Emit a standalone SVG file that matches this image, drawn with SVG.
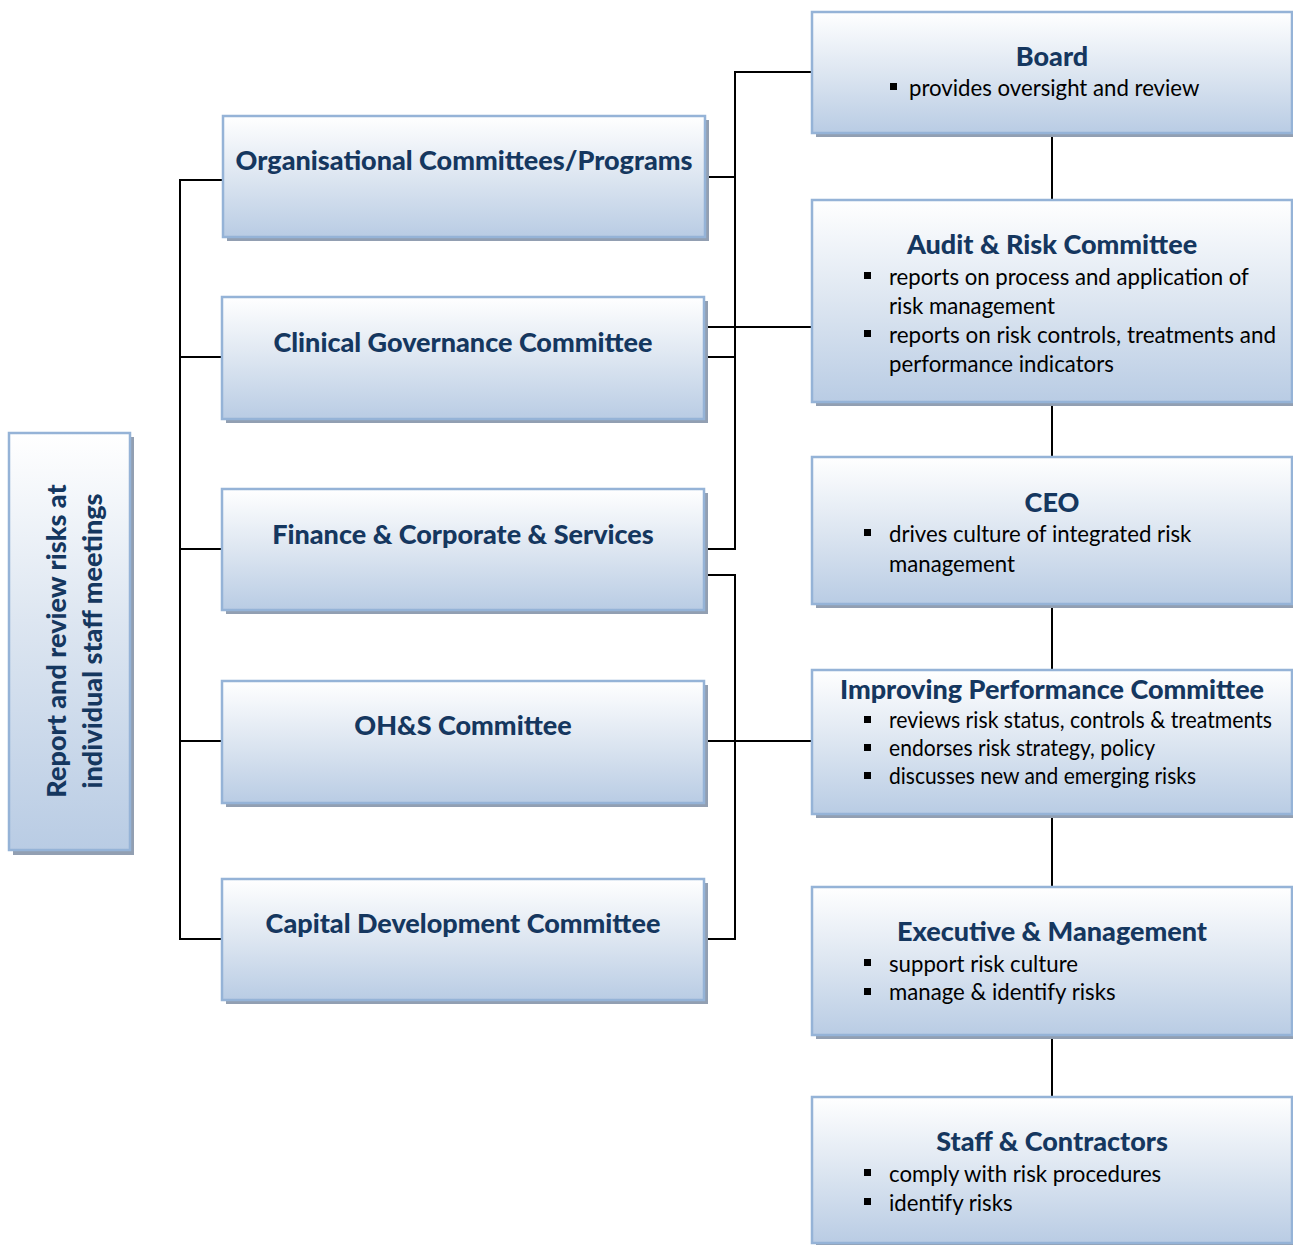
<svg xmlns="http://www.w3.org/2000/svg" width="1293" height="1245" viewBox="0 0 1293 1245">
  <defs>
    <linearGradient id="boxFill" x1="0" y1="0" x2="0" y2="1">
      <stop offset="0" stop-color="#ffffff"/>
      <stop offset="0.5" stop-color="#dde6f1"/>
      <stop offset="1" stop-color="#b9cce4"/>
    </linearGradient>
    <linearGradient id="sideFill" x1="0" y1="0" x2="0" y2="1">
      <stop offset="0" stop-color="#ffffff"/>
      <stop offset="0.45" stop-color="#dde6f1"/>
      <stop offset="1" stop-color="#b9cce4"/>
    </linearGradient>
  </defs>
  <style>
    .shadow { fill: #929fb2; }
    .box { fill: url(#boxFill); stroke: #95b3d7; stroke-width: 2.5; }
    .side { fill: url(#sideFill); stroke: #95b3d7; stroke-width: 2.5; }
    .title { font-family: Lato, "Liberation Sans", sans-serif; font-weight: 900; font-size: 27px; fill: #15375f; }
    .item { font-family: Lato, "Liberation Sans", sans-serif; font-size: 22.2px; fill: #000000; }
    .bullet { fill: #000000; }
    .wire { fill: none; stroke: #000000; stroke-width: 2; }
  </style>

  <rect width="1293" height="1245" fill="#ffffff"/>

  <!-- connectors -->
  <g id="connectors" class="wire">
    <!-- left bus to the staff-meeting committees -->
    <path d="M223,180 H180 V939 H223"/>
    <path d="M180,357 H223"/>
    <path d="M180,549 H223"/>
    <path d="M180,741 H223"/>
    <!-- upper bus to the Board -->
    <path d="M705,177 H735 V72 H812"/>
    <path d="M735,177 V549 H705"/>
    <path d="M705,357 H735"/>
    <path d="M705,327 H812"/>
    <!-- lower bus to Improving Performance -->
    <path d="M705,575 H735 V939 H705"/>
    <path d="M705,741 H812"/>
    <!-- right-hand chain -->
    <path d="M1052,133 V200"/>
    <path d="M1052,402 V457"/>
    <path d="M1052,604 V670"/>
    <path d="M1052,814 V887"/>
    <path d="M1052,1035 V1097"/>
  </g>

  <!-- staff meetings -->
  <g id="staff-meetings">
    <rect class="shadow" x="13" y="437" width="121" height="418"/>
    <rect class="side" x="9" y="433" width="121" height="417"/>
    <g class="title" text-anchor="middle">
      <text transform="translate(66,641) rotate(-90)">Report and review risks at</text>
      <text transform="translate(102,641) rotate(-90)">individual staff meetings</text>
    </g>
  </g>

  <!-- left column committees -->
  <g id="org-committees">
    <rect class="shadow" x="227" y="120" width="482" height="121"/>
    <rect class="box" x="223" y="116" width="482" height="121"/>
    <text class="title" x="464" y="170" text-anchor="middle">Organisational Committees/Programs</text>
  </g>
  <g id="clinical-governance">
    <rect class="shadow" x="226" y="301" width="482" height="122"/>
    <rect class="box" x="222" y="297" width="482" height="122"/>
    <text class="title" x="463" y="352" text-anchor="middle">Clinical Governance Committee</text>
  </g>
  <g id="finance-corporate">
    <rect class="shadow" x="226" y="493" width="482" height="121"/>
    <rect class="box" x="222" y="489" width="482" height="121"/>
    <text class="title" x="463" y="544" text-anchor="middle">Finance &amp; Corporate &amp; Services</text>
  </g>
  <g id="ohs-committee">
    <rect class="shadow" x="226" y="685" width="482" height="122"/>
    <rect class="box" x="222" y="681" width="482" height="122"/>
    <text class="title" x="463" y="735" text-anchor="middle">OH&amp;S Committee</text>
  </g>
  <g id="capital-development">
    <rect class="shadow" x="226" y="883" width="482" height="121"/>
    <rect class="box" x="222" y="879" width="482" height="121"/>
    <text class="title" x="463" y="933" text-anchor="middle">Capital Development Committee</text>
  </g>

  <!-- right column chain -->
  <g id="board">
    <rect class="shadow" x="816" y="16" width="480" height="121"/>
    <rect class="box" x="812" y="12" width="480" height="121"/>
    <text class="title" x="1052" y="66" text-anchor="middle">Board</text>
    <rect class="bullet" x="890" y="83" width="7" height="7"/>
    <text class="item" x="909" y="96">provides oversight and review</text>
  </g>
  <g id="audit-risk">
    <rect class="shadow" x="816" y="204" width="480" height="202"/>
    <rect class="box" x="812" y="200" width="480" height="202"/>
    <text class="title" x="1052" y="254" text-anchor="middle">Audit &amp; Risk Committee</text>
    <rect class="bullet" x="864" y="272" width="7" height="7"/>
    <text class="item" x="889" y="285">reports on process and application of</text>
    <text class="item" x="889" y="314">risk management</text>
    <rect class="bullet" x="864" y="330" width="7" height="7"/>
    <text class="item" x="889" y="343" textLength="387" lengthAdjust="spacingAndGlyphs">reports on risk controls, treatments and</text>
    <text class="item" x="889" y="372">performance indicators</text>
  </g>
  <g id="ceo">
    <rect class="shadow" x="816" y="461" width="480" height="147"/>
    <rect class="box" x="812" y="457" width="480" height="147"/>
    <text class="title" x="1052" y="512" text-anchor="middle">CEO</text>
    <rect class="bullet" x="864" y="529" width="7" height="7"/>
    <text class="item" x="889" y="542">drives culture of integrated risk</text>
    <text class="item" x="889" y="572">management</text>
  </g>
  <g id="improving-performance">
    <rect class="shadow" x="816" y="674" width="480" height="144"/>
    <rect class="box" x="812" y="670" width="480" height="144"/>
    <text class="title" x="1052" y="699" text-anchor="middle">Improving Performance Committee</text>
    <rect class="bullet" x="864" y="716" width="7" height="7"/>
    <text class="item" x="889" y="728" textLength="383" lengthAdjust="spacingAndGlyphs">reviews risk status, controls &amp; treatments</text>
    <rect class="bullet" x="864" y="744" width="7" height="7"/>
    <text class="item" x="889" y="756" textLength="266" lengthAdjust="spacingAndGlyphs">endorses risk strategy, policy</text>
    <rect class="bullet" x="864" y="772" width="7" height="7"/>
    <text class="item" x="889" y="784" textLength="307" lengthAdjust="spacingAndGlyphs">discusses new and emerging risks</text>
  </g>
  <g id="executive-management">
    <rect class="shadow" x="816" y="891" width="480" height="148"/>
    <rect class="box" x="812" y="887" width="480" height="148"/>
    <text class="title" x="1052" y="941" text-anchor="middle">Executive &amp; Management</text>
    <rect class="bullet" x="864" y="959" width="7" height="7"/>
    <text class="item" x="889" y="972">support risk culture</text>
    <rect class="bullet" x="864" y="988" width="7" height="7"/>
    <text class="item" x="889" y="1000">manage &amp; identify risks</text>
  </g>
  <g id="staff-contractors">
    <rect class="shadow" x="816" y="1101" width="480" height="146"/>
    <rect class="box" x="812" y="1097" width="480" height="146"/>
    <text class="title" x="1052" y="1151" text-anchor="middle">Staff &amp; Contractors</text>
    <rect class="bullet" x="864" y="1169" width="7" height="7"/>
    <text class="item" x="889" y="1182">comply with risk procedures</text>
    <rect class="bullet" x="864" y="1198" width="7" height="7"/>
    <text class="item" x="889" y="1211">identify risks</text>
  </g>
</svg>
